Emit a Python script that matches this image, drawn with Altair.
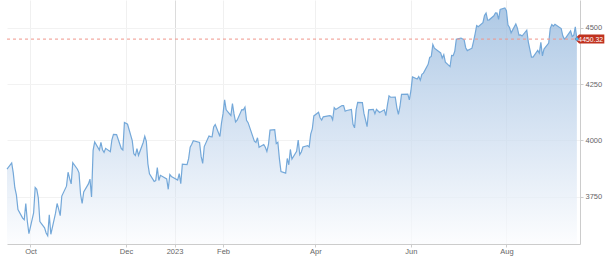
import altair as alt
import pandas as pd

# S&P 500-style daily closes (Sep 16 2022 -> Sep 15 2023)
sep22 = [3873, 3900, 3856, 3790, 3758, 3693, 3655, 3648, 3720, 3640, 3586]
oct22 = [3678, 3791, 3783, 3745, 3640, 3612, 3589, 3577, 3670, 3583,
         3677, 3720, 3695, 3666, 3753, 3797, 3859, 3831, 3807, 3901, 3872]
nov22 = [3856, 3760, 3720, 3771, 3807, 3828, 3749, 3956, 3993, 3957,
         3992, 3959, 3947, 3965, 3950, 4003, 4027, 4026, 3964, 3958, 4080]
dec22 = [4076, 4072, 3999, 3941, 3933, 3964, 3934, 3991, 4019, 3996,
         3896, 3852, 3818, 3822, 3879, 3822, 3845, 3829, 3783, 3849, 3840]
jan23 = [3824, 3853, 3808, 3895, 3893, 3919, 3970, 3983, 3999, 3991,
         3929, 3898, 3973, 4020, 4017, 4016, 4060, 4071, 4018, 4077]
feb23 = [4119, 4180, 4136, 4111, 4164, 4118, 4082, 4090, 4137, 4136,
         4148, 4090, 4079, 3997, 3991, 4012, 3970, 3982, 3970]
mar23 = [3951, 3981, 4046, 4048, 3986, 3992, 3918, 3862, 3855, 3920,
         3892, 3960, 3917, 3952, 4002, 3937, 3949, 3971, 3977, 3971,
         4028, 4051, 4109]
apr23 = [4125, 4101, 4091, 4105, 4110, 4109, 4092, 4146, 4138, 4151,
         4155, 4155, 4130, 4133, 4138, 4072, 4056, 4136, 4169]
may23 = [4168, 4120, 4091, 4061, 4136, 4138, 4119, 4138, 4131, 4124,
         4136, 4110, 4158, 4198, 4192, 4193, 4146, 4116, 4151, 4205,
         4206, 4180]
jun23 = [4221, 4282, 4273, 4284, 4268, 4294, 4299, 4338, 4369, 4373,
         4426, 4410, 4389, 4366, 4381, 4348, 4328, 4378, 4377, 4396, 4450]
jul23 = [4455, 4447, 4412, 4399, 4410, 4440, 4473, 4510, 4505, 4523,
         4555, 4566, 4535, 4536, 4554, 4567, 4566, 4538, 4582, 4589]
aug23 = [4577, 4513, 4502, 4478, 4518, 4499, 4468, 4469, 4464, 4490,
         4437, 4404, 4370, 4370, 4400, 4388, 4436, 4376, 4406, 4433,
         4498, 4515, 4508]
sep23 = [4516, 4497, 4465, 4451, 4457, 4487, 4462, 4467, 4505, 4450.32]

holidays = ["2022-11-24", "2022-12-26", "2023-01-02", "2023-01-16",
            "2023-02-20", "2023-04-07", "2023-05-29", "2023-06-19",
            "2023-07-04", "2023-09-04"]
start_date = "2022-09-16"
end_date = "2023-09-15"

last_value = 4450.32
last_label = "4450.32"
y_ticks = [3750, 4000, 4250, 4500]
y_min, y_max = 3540, 4624

values = (sep22 + oct22 + nov22 + dec22 + jan23 + feb23 + mar23 + apr23
          + may23 + jun23 + jul23 + aug23 + sep23)
days = pd.bdate_range(start_date, end_date)
days = days[~days.isin(pd.to_datetime(holidays))]
df = pd.DataFrame({"date": days.strftime("%Y-%m-%d"), "close": values})

last_df = pd.DataFrame({"date": [days[-1].strftime("%Y-%m-%d")],
                        "close": [last_value], "label": [last_label]})

x_scale = alt.Scale(domain=[alt.DateTime(year=2022, month=9, date=16),
                            alt.DateTime(year=2023, month=9, date=17)])
y_scale = alt.Scale(domain=[y_min, y_max], nice=False, zero=False)

x_ticks = [alt.DateTime(year=2022, month=10, date=1),
           alt.DateTime(year=2022, month=12, date=1),
           alt.DateTime(year=2023, month=1, date=1),
           alt.DateTime(year=2023, month=2, date=1),
           alt.DateTime(year=2023, month=4, date=1),
           alt.DateTime(year=2023, month=6, date=1),
           alt.DateTime(year=2023, month=8, date=1)]

FONT = "Liberation Sans"

x_enc = alt.X("date:T", scale=x_scale, axis=alt.Axis(
    values=x_ticks,
    labelExpr="month(datum.value) == 0 ? timeFormat(datum.value, '%Y') : timeFormat(datum.value, '%b')",
    title=None, grid=True,
    gridColor={"condition": {"test": "month(datum.value) == 0", "value": "#dcdcdc"}, "value": "#f0f0f0"},
    domainColor="#cccccc", tickColor="#cccccc", tickSize=3,
    labelColor="#666666", labelFontSize=7.5, labelFont=FONT, labelPadding=0,
))
y_enc = alt.Y("close:Q", scale=y_scale, axis=alt.Axis(
    orient="right", values=y_ticks, format="d", title=None,
    grid=True, gridColor="#f2f2f2",
    domainColor="#cccccc", tickColor="#cccccc", tickSize=3,
    labelColor="#666666", labelFontSize=7.5, labelFont=FONT, labelPadding=2,
))

base = alt.Chart(df)

area = base.mark_area(
    line={"color": "#74a8d9", "strokeWidth": 1.2},
    color=alt.Gradient(
        gradient="linear", x1=1, x2=1, y1=0, y2=1,
        stops=[alt.GradientStop(color="#8cb2da", offset=0),
               alt.GradientStop(color="#c4d7ed", offset=0.5),
               alt.GradientStop(color="#fbfcfe", offset=1)],
    ),
).encode(x=x_enc, y=y_enc, y2=alt.datum(y_min))

rule = alt.Chart(last_df).mark_rule(
    color="#f0958a", strokeDash=[3, 3], strokeWidth=1
).encode(y=alt.Y("close:Q", scale=y_scale))

box = alt.Chart(last_df).mark_point(
    shape="M-0.5,0 L0.5,-1 L6.1,-1 L6.1,1 L0.5,1 Z",
    size=81, filled=True, opacity=1, color="#c0321f", strokeWidth=0,
).encode(x=alt.X("date:T", scale=x_scale), y=alt.Y("close:Q", scale=y_scale))

dot = alt.Chart(last_df).mark_point(
    shape="circle", size=12, filled=True, opacity=1, color="#4db8f0",
).encode(x=alt.X("date:T", scale=x_scale), y=alt.Y("close:Q", scale=y_scale))

label = alt.Chart(last_df).mark_text(
    align="left", baseline="middle", dx=1.5, dy=0.5, color="white",
    font=FONT, fontSize=6.8,
).encode(x=alt.X("date:T", scale=x_scale), y=alt.Y("close:Q", scale=y_scale),
         text="label:N")

chart = alt.layer(area, rule, box, dot, label).properties(
    width=573, height=244,
    autosize=alt.AutoSizeParams(type="none"),
    padding={"left": 7, "top": 0, "right": 25, "bottom": 21},
).configure_view(stroke=None)

chart.save("out.html", embed_options={"renderer": "svg", "actions": False})
